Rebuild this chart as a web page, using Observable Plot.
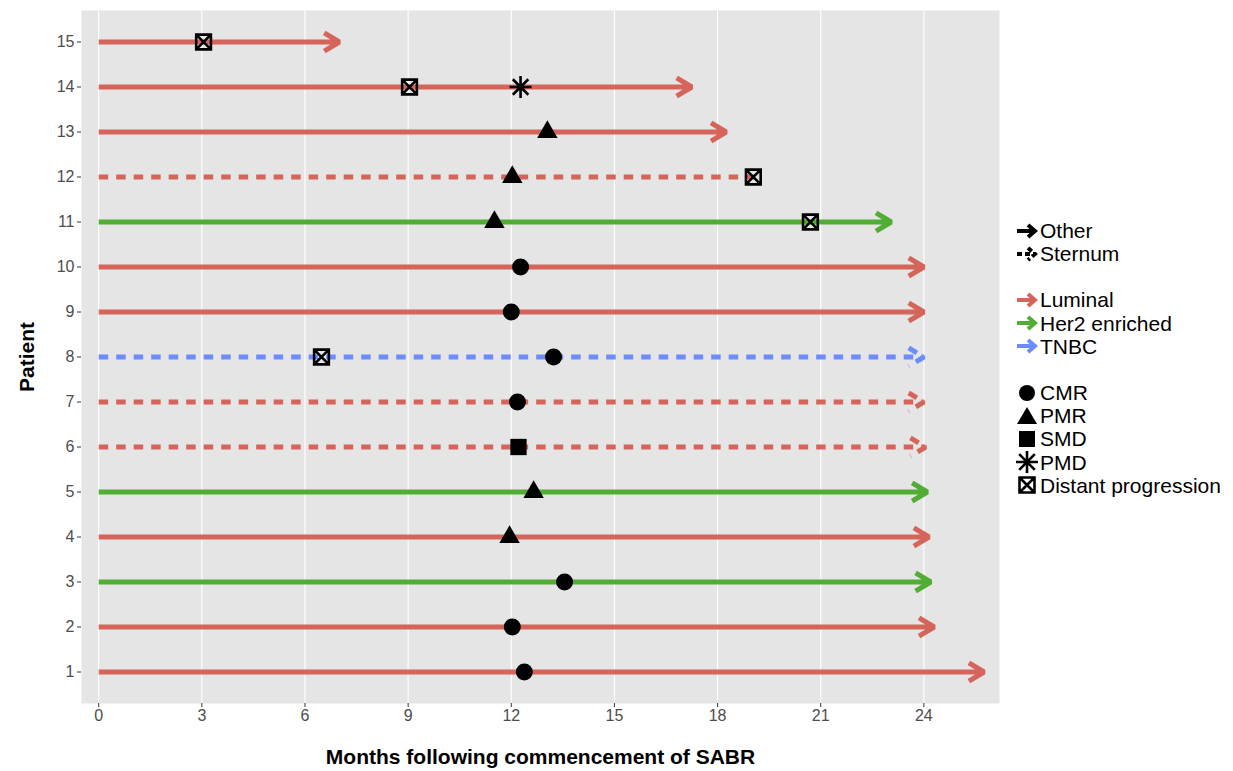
<!DOCTYPE html>
<html><head><meta charset="utf-8">
<script src="https://cdn.jsdelivr.net/npm/d3@7"></script>
<script src="https://cdn.jsdelivr.net/npm/@observablehq/plot@0.6"></script>
<style>
body{margin:0;background:#fff;font-family:"Liberation Sans",Arial,sans-serif;}
#wrap{position:relative;width:1233px;height:771px;}
#legend{position:absolute;left:1016px;top:219px;font-size:21px;color:#000;line-height:1;}
.item{display:flex;align-items:center;height:23.2px;}
.item svg{width:22px;height:22px;margin-right:2px;flex:none}
.gap{height:23px}
svg.plot{font-family:"Liberation Sans",Arial,sans-serif;}
g[aria-label="x-axis label"] text, g[aria-label="y-axis label"] text{font-weight:bold;font-size:21px;fill:#000;}
g[aria-label="x-axis tick label"] text, g[aria-label="y-axis tick label"] text{fill:#4d4d4d;font-size:16px;}
</style></head><body><div id="wrap"><div id="chart"></div><div id="legend"></div></div>
<script>
// ---- data ----
const patients   = [1,2,3,4,5,6,7,8,9,10,11,12,13,14,15];
const endMonth   = [25.75,24.3,24.2,24.15,24.1,24.05,24.0,24.0,24.0,24.0,23.05,19.05,18.25,17.25,7.0];
const subtype    = ["Luminal","Luminal","Her2 enriched","Luminal","Her2 enriched","Luminal","Luminal","TNBC","Luminal","Luminal","Her2 enriched","Luminal","Luminal","Luminal","Luminal"];
const site       = ["Other","Other","Other","Other","Other","Sternum","Sternum","Sternum","Other","Other","Other","Sternum","Other","Other","Other"];
const arrowHead  = [true,true,true,true,true,true,true,true,true,true,true,false,true,true,true];

const respPatient = [1,2,3,4,5,6,7,8,9,10,11,12,13,14];
const respMonth   = [12.38,12.03,13.55,11.95,12.65,12.21,12.18,13.23,12.0,12.27,11.51,12.03,13.05,12.27];
const respType    = ["CMR","CMR","CMR","PMR","PMR","SMD","CMR","CMR","CMR","CMR","PMR","PMR","PMR","PMD"];

const progPatient = [15,14,12,11,8];
const progMonth   = [3.05,9.04,19.04,20.7,6.48];

const xTicks = [0,3,6,9,12,15,18,21,24];
const yTicks = patients;
const subtypes = ["Luminal","Her2 enriched","TNBC"];
const subtypeColors = ["#D5645B","#52AD34","#6B8CFF"];
const responses = ["CMR","PMR","SMD","PMD"];

// ---- tables ----
const lines = patients.map((p,i)=>({patient:p,start:0,end:endMonth[i],subtype:subtype[i],site:site[i],arrow:arrowHead[i]}));
const resp = respPatient.map((p,i)=>({patient:p,month:respMonth[i],type:respType[i]}));
const prog = progPatient.map((p,i)=>({patient:p,month:progMonth[i]}));

const boxX = {draw(ctx,size){const s=Math.sqrt(size)/2;ctx.moveTo(-s,-s);ctx.lineTo(s,-s);ctx.lineTo(s,s);ctx.lineTo(-s,s);ctx.closePath();ctx.moveTo(-s,-s);ctx.lineTo(s,s);ctx.moveTo(s,-s);ctx.lineTo(-s,s);}};
const star8 = {draw(ctx,size){const r=Math.sqrt(size/Math.PI);const d=r*Math.SQRT1_2;ctx.moveTo(-r,0);ctx.lineTo(r,0);ctx.moveTo(0,-r);ctx.lineTo(0,r);ctx.moveTo(-d,-d);ctx.lineTo(d,d);ctx.moveTo(d,-d);ctx.lineTo(-d,d);}};

const color = {domain:subtypes, range:subtypeColors};
const lineBase = {x1:"start",x2:"end",y1:"patient",y2:"patient",stroke:"subtype",strokeWidth:5};
const arrowOpts = {bend:0,headAngle:62,headLength:5.3,strokeLinejoin:"miter",strokeLinecap:"butt"};

const chart = Plot.plot({
  width:1233, height:771,
  marginTop:10, marginBottom:68, marginLeft:81, marginRight:234,
  x:{domain:[-0.5,26.2]},
  y:{domain:[0.3,15.7]},
  color,
  style:{fontSize:"16px",fontFamily:"Liberation Sans, Arial, sans-serif"},
  marks:[
    Plot.frame({fill:"#E5E5E5",stroke:null}),
    Plot.gridX(xTicks,{stroke:"#fff",strokeOpacity:1,strokeWidth:1.1}),
    Plot.axisX(xTicks,{tickSize:4,tickPadding:2,fontSize:16,stroke:"#333",label:"Months following commencement of SABR",labelAnchor:"center",labelArrow:"none",labelOffset:60}),
    Plot.axisY(yTicks,{tickSize:4,tickPadding:3,fontSize:16,stroke:"#333",label:"Patient",labelAnchor:"center",labelArrow:"none",labelOffset:62}),
    Plot.arrow(lines.filter(d=>d.arrow && d.site==="Other"),{...lineBase,...arrowOpts}),
    Plot.arrow(lines.filter(d=>d.arrow && d.site==="Sternum"),{...lineBase,...arrowOpts,strokeDasharray:"9.5,8"}),
    Plot.link(lines.filter(d=>!d.arrow && d.site==="Sternum"),{...lineBase,strokeDasharray:"9.5,8",strokeLinecap:"butt"}),
    Plot.link(lines.filter(d=>!d.arrow && d.site==="Other"),{...lineBase,strokeLinecap:"butt"}),
    Plot.dot(resp.filter(d=>d.type==="CMR"),{x:"month",y:"patient",symbol:"circle",r:8.5,fill:"#000",stroke:null}),
    Plot.dot(resp.filter(d=>d.type==="PMR"),{x:"month",y:"patient",symbol:"triangle",r:7.6,fill:"#000",stroke:null}),
    Plot.dot(resp.filter(d=>d.type==="SMD"),{x:"month",y:"patient",symbol:"square",r:9.2,fill:"#000",stroke:null}),
    Plot.dot(resp.filter(d=>d.type==="PMD"),{x:"month",y:"patient",symbol:star8,r:11,fill:"none",stroke:"#000",strokeWidth:2.6}),
    Plot.dot(prog,{x:"month",y:"patient",symbol:boxX,r:8.3,fill:"none",stroke:"#000",strokeWidth:2.6})
  ]
});
document.getElementById("chart").appendChild(chart);

// ---- legend ----
function arrowIcon(col,dashed){
  const dash = dashed ? ' stroke-dasharray="5,3"' : '';
  return `<svg viewBox="0 0 22 22"><path d="M1,11H19M12,5L19,11L12,17" fill="none" stroke="${col}" stroke-width="4"${dash} stroke-linejoin="miter"/></svg>`;
}
function symIcon(type){
  let s="";
  if(type==="CMR") s=`<circle cx="11" cy="11" r="8" fill="#000"/>`;
  if(type==="PMR") s=`<path d="M11,2L21,19H1Z" fill="#000"/>`;
  if(type==="SMD") s=`<rect x="3" y="3" width="16" height="16" fill="#000"/>`;
  if(type==="PMD") s=`<path d="M0,11H22M11,0V22M3.2,3.2L18.8,18.8M18.8,3.2L3.2,18.8" stroke="#000" stroke-width="2.6"/>`;
  if(type==="Distant progression") s=`<path d="M3.5,3.5H18.5V18.5H3.5ZM3.5,3.5L18.5,18.5M18.5,3.5L3.5,18.5" fill="none" stroke="#000" stroke-width="2.6"/>`;
  return `<svg viewBox="0 0 22 22">${s}</svg>`;
}
const sites = ["Other","Sternum"];
let html = "";
sites.forEach(s=>{html+=`<div class="item">${arrowIcon("#000",s==="Sternum")}<span>${s}</span></div>`;});
html += `<div class="gap"></div>`;
subtypes.forEach((s,i)=>{html+=`<div class="item">${arrowIcon(subtypeColors[i],false)}<span>${s}</span></div>`;});
html += `<div class="gap"></div>`;
[...responses,"Distant progression"].forEach(s=>{html+=`<div class="item">${symIcon(s)}<span>${s}</span></div>`;});
document.getElementById("legend").innerHTML = html;
</script></body></html>
